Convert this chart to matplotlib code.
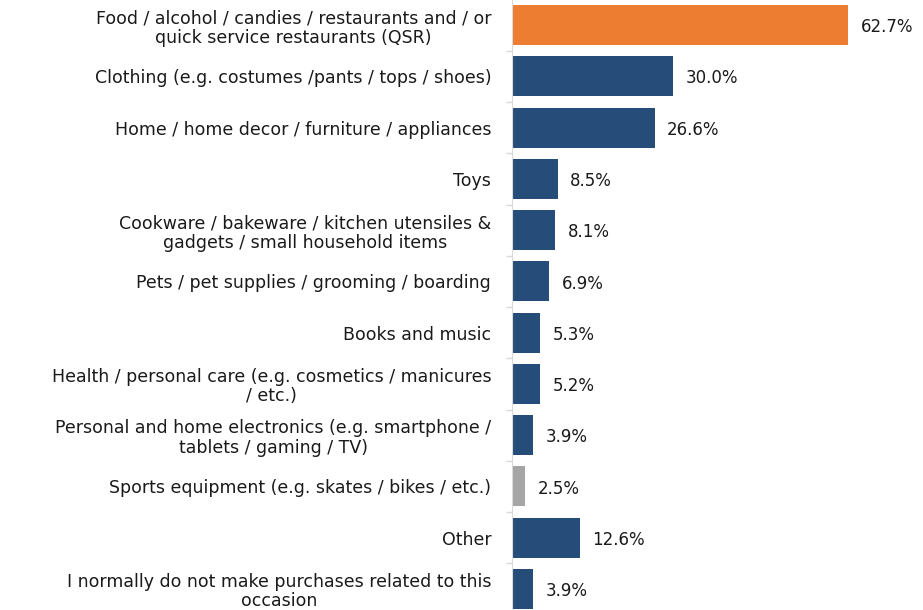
import numpy as np
import matplotlib
matplotlib.use("Agg")
import matplotlib.pyplot as plt

plt.rcParams['font.family'] = ['DejaVu Sans']

categories = [
    "Food / alcohol / candies / restaurants and / or\nquick service restaurants (QSR)",
    "Clothing (e.g. costumes /pants / tops / shoes)",
    "Home / home decor / furniture / appliances",
    "Toys",
    "Cookware / bakeware / kitchen utensiles &\ngadgets / small household items",
    "Pets / pet supplies / grooming / boarding",
    "Books and music",
    "Health / personal care (e.g. cosmetics / manicures\n/ etc.)",
    "Personal and home electronics (e.g. smartphone /\ntablets / gaming / TV)",
    "Sports equipment (e.g. skates / bikes / etc.)",
    "Other",
    "I normally do not make purchases related to this\noccasion",
]
values = [62.7, 30.0, 26.6, 8.5, 8.1, 6.9, 5.3, 5.2, 3.9, 2.5, 12.6, 3.9]
colors = ["#ED7D31"] + ["#264D79"] * 8 + ["#A5A5A5"] + ["#264D79"] * 2

fig = plt.figure(figsize=(9.23, 6.10), dpi=100)
ax = fig.add_axes([512 / 923, 0, 411 / 923, 1])

y = np.arange(len(categories))
ax.barh(y, values, height=0.78, color=colors)

for yi, v in zip(y, values):
    ax.annotate(f"{v:.1f}%", (v, yi), xytext=(9, -1.5), textcoords="offset points",
                va="center", ha="left", fontsize=12, color="#1a1a1a")

ax.set_xlim(0, 411 / 5.36)
ax.set_ylim(11.41, -0.49)

# category labels at bar centres, short grey ticks between categories
ax.set_yticks(y)
ax.set_yticklabels(categories, fontsize=12.5, color="#1a1a1a", linespacing=1.1)
for lbl in ax.get_yticklabels():
    lbl.set_multialignment("center")
ax.tick_params(axis="y", which="major", length=0, pad=15)
ax.set_yticks(y[:-1] + 0.5, minor=True)
ax.tick_params(axis="y", which="minor", length=4.5, color="#D9D9D9", width=1)

ax.set_xticks([])
for s in ["top", "right", "bottom"]:
    ax.spines[s].set_visible(False)
ax.spines["left"].set_color("#D9D9D9")

fig.savefig("out.png", dpi=100)
